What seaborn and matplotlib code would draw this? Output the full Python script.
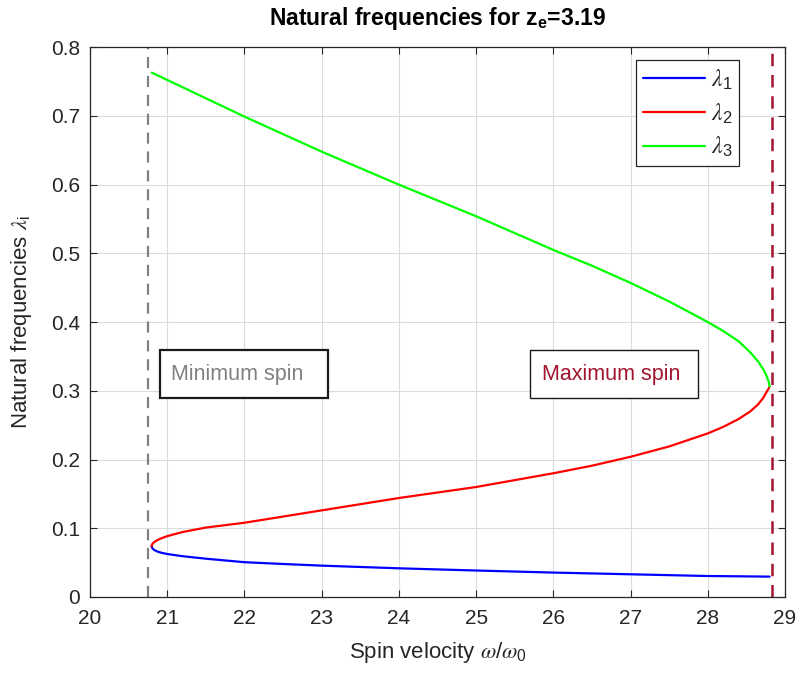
import matplotlib
matplotlib.use("Agg")
import matplotlib.pyplot as plt
from matplotlib.patches import Rectangle
import seaborn as sns
import pandas as pd

# ---- data ----
x_l1 = [20.797, 20.81, 20.83, 20.87, 20.93, 21.0, 21.2, 21.5, 22.0, 22.5, 23.0, 24.0, 25.0, 26.0, 27.0, 28.0, 28.8]
y_l1 = [0.0738, 0.0705, 0.0685, 0.0662, 0.0642, 0.0625, 0.0593, 0.0557, 0.0506, 0.0480, 0.0456, 0.0417, 0.0385, 0.0355, 0.0330, 0.0305, 0.0296]

x_l2 = [20.797, 20.81, 20.83, 20.87, 20.93, 21.0, 21.2, 21.5, 22.0, 22.5, 23.0, 24.0, 25.0, 25.5, 26.0,
        26.5, 27.0, 27.5, 28.0, 28.2, 28.4, 28.55, 28.65, 28.72, 28.76, 28.79, 28.80]
y_l2 = [0.0738, 0.0775, 0.0797, 0.0826, 0.0857, 0.0885, 0.0945, 0.1010, 0.1080, 0.1170, 0.1260, 0.1440, 0.1600, 0.1700, 0.1800,
        0.1910, 0.2040, 0.2190, 0.2380, 0.2475, 0.2590, 0.2700, 0.2800, 0.2900, 0.2980, 0.3035, 0.3065]

x_l3 = [20.80, 22.0, 23.0, 24.0, 25.0, 26.0, 26.5, 27.0, 27.5, 28.0, 28.2, 28.4, 28.55, 28.65, 28.72, 28.76, 28.79, 28.80]
y_l3 = [0.763, 0.699, 0.648, 0.600, 0.554, 0.505, 0.482, 0.457, 0.430, 0.400, 0.387, 0.372, 0.356, 0.343, 0.331, 0.322, 0.313, 0.3065]

series_labels = [r"$\lambda_1$", r"$\lambda_2$", r"$\lambda_3$"]
series_colors = ["#0000FF", "#FF0000", "#00FF00"]

min_spin = 20.753
max_spin = 28.83

x_ticks = [20, 21, 22, 23, 24, 25, 26, 27, 28, 29]
y_ticks = [0, 0.1, 0.2, 0.3, 0.4, 0.5, 0.6, 0.7, 0.8]
y_tick_labels = ["0", "0.1", "0.2", "0.3", "0.4", "0.5", "0.6", "0.7", "0.8"]

# ---- style ----
sns.set_style("ticks")
plt.rcParams["font.family"] = ["Liberation Sans", "DejaVu Sans"]
plt.rcParams["mathtext.fontset"] = "custom"
plt.rcParams["mathtext.rm"] = "Liberation Sans"
plt.rcParams["mathtext.it"] = "STIXGeneral:italic"
plt.rcParams["mathtext.bf"] = "Liberation Sans:bold"

fig = plt.figure(figsize=(8.02, 6.75), dpi=100)
ax = fig.add_axes([0.1122, 0.1156, 0.8666, 0.8145])

frames = []
for xs, ys, lab in zip([x_l1, x_l2, x_l3], [y_l1, y_l2, y_l3], series_labels):
    frames.append(pd.DataFrame({"x": xs, "y": ys, "series": lab}))
df = pd.concat(frames, ignore_index=True)

sns.lineplot(data=df, x="x", y="y", hue="series", palette=series_colors,
             estimator=None, sort=False, linewidth=1.6, ax=ax)

ax.axvline(min_spin, color="#808080", linestyle=(0, (5, 3.5)), linewidth=1.6, zorder=1)
ax.axvline(max_spin, color="#A2142F", linestyle=(0, (5, 3.5)), linewidth=1.8, zorder=1)

ax.set_xlim(20, 29)
ax.set_ylim(0, 0.8)
ax.set_xticks(x_ticks)
ax.set_yticks(y_ticks)
ax.set_yticklabels(y_tick_labels)
ax.grid(True, color="#DCDCDC", linewidth=0.8)
ax.set_axisbelow(True)
ax.tick_params(direction="in", top=True, right=True, length=5, width=0.8,
               colors="#262626", labelsize=15)
ax.tick_params(axis="x", pad=9)
ax.tick_params(axis="y", pad=7)
for sp in ax.spines.values():
    sp.set_color("#262626")
    sp.set_linewidth(0.9)

ax.set_xlabel(r"Spin velocity $\omega/\omega_0$", fontsize=16, color="#262626", labelpad=8)
ax.set_ylabel(r"Natural frequencies $\lambda_\mathrm{i}$", fontsize=16, color="#262626", labelpad=12)
ax.set_title(r"Natural frequencies for $\mathbf{z_e}$=3.19", fontsize=16.5, fontweight="bold",
             color="black", pad=16)

# annotation boxes (MATLAB-style text boxes with wider right margin)
ax.add_patch(Rectangle((20.91, 0.289), 2.17, 0.070, facecolor="white", edgecolor="#1a1a1a",
                       linewidth=1.6, zorder=4))
ax.text(21.05, 0.324, "Minimum spin", fontsize=15.5, color="#808080", va="center", ha="left", zorder=5)
ax.add_patch(Rectangle((25.70, 0.289), 2.17, 0.070, facecolor="white", edgecolor="#1a1a1a",
                       linewidth=1.0, zorder=4))
ax.text(25.85, 0.324, "Maximum spin", fontsize=15.5, color="#A2142F", va="center", ha="left", zorder=5)

leg = ax.legend(loc="upper right", bbox_to_anchor=(0.934, 0.976), borderaxespad=0, fontsize=17,
                frameon=True, fancybox=False, edgecolor="#262626", framealpha=1,
                handlelength=2.6, borderpad=0.3, labelspacing=0.4, handletextpad=0.25,
                title=None)
leg.get_frame().set_linewidth(0.9)
leg.set_zorder(6)

fig.savefig("out.png", dpi=100)
